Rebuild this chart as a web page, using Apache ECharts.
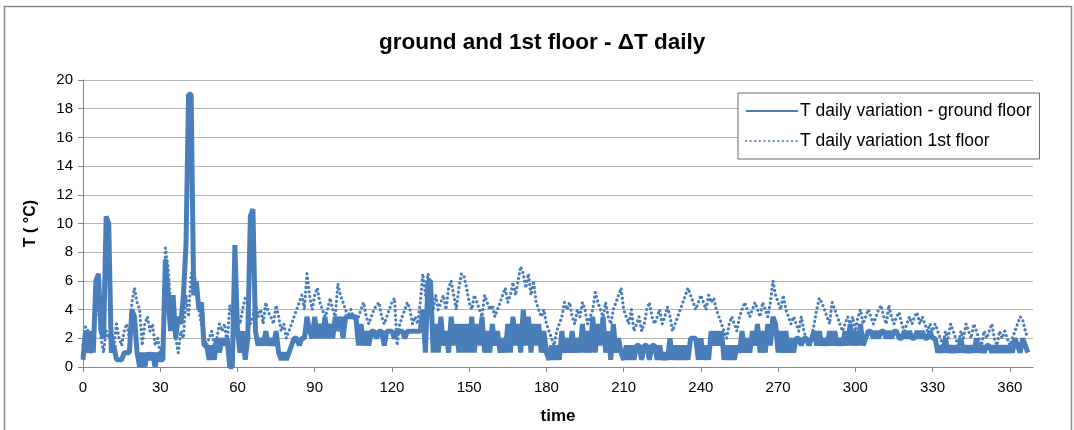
<!DOCTYPE html>
<html>
<head>
<meta charset="utf-8">
<script src="https://cdn.jsdelivr.net/npm/echarts@6/dist/echarts.min.js"></script>
<style>
html,body{margin:0;padding:0;background:#fff;}
#chart{width:1074px;height:430px;}
</style>
</head>
<body>
<div id="chart"></div>
<script>
// Chart text
var titleText = 'ground and 1st floor - \u0394T daily';
var seriesNames = ['T daily variation - ground floor', 'T daily variation 1st floor'];
var xTicks = [0, 30, 60, 90, 120, 150, 180, 210, 240, 270, 300, 330, 360];
var yTicks = [0, 2, 4, 6, 8, 10, 12, 14, 16, 18, 20];

// Day index (time) 0..367
var days = [];
for (var i = 0; i < 368; i++) days.push(i);

// Ground floor daily variation (°C)
var groundFloor = [
0.5,2.5,1.0,2.5,1.0,6.0,6.5,2.5,2.0,10.5,
10.0,1.0,1.5,0.5,0.5,0.5,1.0,1.0,1.0,4.0,
3.5,1.0,0,1.0,0,1.0,0.5,1.0,0,1.0,
0.5,0.5,7.5,5.0,2.5,5.0,2.0,3.5,3.0,5.0,
8.5,19.0,19.0,5.0,6.0,4.0,4.5,1.5,1.5,0.5,
1.5,0.5,2.0,1.0,2.0,1.5,2.0,0,0,8.5,
2.5,1.0,2.5,0.5,2.0,10.5,11.0,2.5,1.5,2.0,
1.5,2.5,1.5,2.0,1.5,2.5,1.0,0.5,1.0,0.5,
1.0,1.5,2.0,2.0,1.5,2.0,2.0,3.5,2.5,2.0,
3.5,2.0,3.0,2.0,3.5,2.0,3.0,2.0,3.5,2.5,
3.5,2.0,3.5,3.5,3.5,3.5,3.5,1.5,3.0,1.5,
2.5,1.5,2.5,2.5,2.0,2.5,2.5,1.5,2.5,2.5,
2.5,2.0,2.5,2.5,2.5,2.0,2.5,2.5,2.5,2.5,
2.5,2.5,4.0,1.0,6.0,6.0,1.0,3.0,1.0,3.5,
1.5,2.5,1.0,3.5,1.5,3.0,1.0,3.0,1.0,3.0,
1.0,3.5,1.0,3.0,1.5,3.5,1.0,2.5,1.0,3.0,
1.5,2.5,1.0,2.0,1.0,3.0,1.0,3.5,1.5,3.0,
1.0,4.0,1.5,3.5,1.0,3.0,1.5,3.0,1.0,2.5,
1.0,0.5,1.5,0.5,1.5,0.5,2.5,1.0,2.0,1.0,
2.5,1.0,2.0,1.0,3.0,1.0,2.5,1.0,3.5,1.0,
3.0,1.5,3.5,1.0,2.5,0.5,3.0,1.0,2.0,1.0,
0.5,1.5,0.5,1.5,0.5,1.5,1.5,0.5,1.5,1.5,
0.5,1.5,1.5,0.5,1.5,0.5,1.0,0.5,2.0,0.5,
1.5,0.5,1.5,0.5,1.5,0.5,2.0,2.0,2.0,0.5,
2.0,0.5,1.5,0.5,2.5,1.5,2.5,1.5,2.5,0.5,
1.5,0.5,1.5,0.5,1.5,1.0,2.5,1.0,2.0,1.0,
2.5,1.5,3.0,1.0,2.5,1.0,3.0,1.5,3.5,3.0,
1.0,2.5,1.0,2.5,1.0,2.0,1.0,2.0,2.0,1.5,
2.0,2.0,1.5,2.0,2.5,1.5,2.5,1.5,2.0,1.5,
2.5,1.5,2.5,1.5,2.0,1.5,2.5,1.5,3.0,1.5,
2.5,1.5,3.0,1.5,2.0,2.5,2.5,2.0,2.5,2.0,
2.5,2.5,2.0,2.5,2.0,2.5,2.5,2.0,2.0,2.5,
2.0,2.5,2.0,2.0,2.5,2.0,2.5,2.0,2.0,2.5,
2.0,2.0,1.0,1.5,1.0,2.0,1.0,1.5,1.0,1.5,
1.0,2.0,1.0,1.5,1.0,1.5,1.0,2.0,1.0,1.5,
1.0,1.5,1.5,1.0,1.5,1.0,1.5,1.0,1.5,1.0,
1.5,1.0,2.0,1.5,1.0,2.0,1.5,1.0
];

// 1st floor daily variation (°C)
var firstFloor = [
1.5,2.8,2.5,1.0,2.0,6.0,4.0,2.0,1.0,2.5,
2.0,2.8,1.5,3.0,2.0,1.5,2.5,3.0,2.0,4.5,
5.5,4.5,4.0,1.5,3.0,3.5,2.5,3.0,1.5,2.0,
1.0,1.5,8.3,7.0,4.5,3.0,2.0,1.0,2.5,2.0,
5.0,3.5,6.5,6.8,5.5,4.0,3.0,2.0,1.5,2.0,
2.5,1.5,2.0,3.0,2.5,3.0,1.5,4.3,3.5,4.0,
3.5,3.0,4.0,4.8,4.5,3.0,3.5,4.5,3.5,4.0,
3.0,4.5,3.8,3.5,3.0,4.3,3.5,2.5,3.0,2.0,
2.5,3.0,3.5,4.0,4.5,5.0,4.0,6.5,5.0,4.0,
5.0,5.5,4.5,4.0,3.5,4.0,4.8,4.0,3.5,5.8,
5.0,4.5,4.0,3.5,4.0,3.5,3.0,3.5,4.0,4.5,
3.5,3.0,3.5,4.0,4.3,4.5,3.5,3.0,3.5,4.0,
4.5,4.8,1.5,3.0,3.5,4.0,4.5,4.0,3.0,3.5,
3.0,4.5,6.5,5.0,6.5,5.5,4.0,5.0,4.0,4.5,
5.0,4.0,5.5,6.0,5.0,4.0,5.5,6.5,6.3,5.5,
4.5,4.0,5.0,4.5,4.0,3.5,5.0,4.5,4.0,4.3,
3.5,4.0,4.5,5.0,5.5,4.5,5.0,5.9,5.0,6.0,
7.0,6.5,5.5,6.5,5.0,6.0,4.5,4.0,3.5,4.0,
3.0,2.5,2.0,1.5,2.5,3.0,3.5,4.5,4.0,4.5,
3.5,3.0,4.0,3.5,4.5,4.0,3.0,3.5,4.0,5.2,
4.5,4.0,3.5,4.5,3.5,3.0,4.0,4.5,5.0,5.5,
4.0,3.5,3.0,4.0,2.5,3.0,3.5,2.5,3.0,4.0,
4.5,3.5,3.0,3.5,4.0,3.0,3.5,4.2,3.5,2.5,
3.0,3.5,4.0,4.5,5.0,5.5,5.0,4.5,4.0,4.5,
5.0,4.5,4.0,5.0,4.5,4.8,4.0,3.5,3.0,2.5,
2.0,3.0,3.5,3.0,2.5,3.5,4.0,4.5,4.0,3.5,
4.0,4.5,4.0,3.5,4.5,4.0,3.5,4.5,6.0,5.0,
4.5,4.0,5.0,4.0,3.5,3.0,3.5,3.0,2.5,3.5,
2.5,2.0,1.5,2.0,3.0,4.0,4.8,4.5,4.0,3.5,
3.0,4.5,4.0,3.5,3.0,2.5,3.0,3.5,3.0,3.5,
2.5,3.5,4.0,3.0,3.5,4.0,3.5,3.0,3.5,4.0,
4.3,3.5,3.0,4.3,3.5,3.0,3.5,3.8,3.0,2.5,
3.0,3.5,3.0,3.5,3.8,3.0,3.5,3.0,2.5,3.0,
2.5,3.0,2.5,2.0,1.5,2.5,2.0,3.0,2.5,2.0,
1.5,2.5,2.0,3.0,2.5,2.0,3.0,2.5,2.0,1.5,
2.5,2.0,2.5,3.0,2.0,1.5,2.5,2.0,2.5,2.0,
1.5,2.0,2.5,3.0,3.5,3.3,2.5,2.0
];

var blue = '#4a7ebb';
var font = '"Liberation Sans", Arial, sans-serif';

function pairs(ys) {
  return days.map(function (d, i) { return [d, ys[i]]; });
}

var chart = echarts.init(document.getElementById('chart'), null, {renderer: 'canvas'});
chart.setOption({
  animation: false,
  backgroundColor: '#fff',
  textStyle: {fontFamily: font},
  title: {
    text: titleText,
    left: 374, top: 26,
    textStyle: {fontSize: 22.5, fontWeight: 'bold', color: '#000', fontFamily: font}
  },
  graphic: [{
    type: 'rect', silent: true, z: -1,
    shape: {x: 4.5, y: 6.5, width: 1067, height: 440},
    style: {fill: 'none', stroke: '#8a8a8a', lineWidth: 1.5}
  }],
  legend: {
    orient: 'vertical',
    left: 738, top: 93,
    itemWidth: 52, itemHeight: 14,
    itemGap: 12,
    padding: [9, 8, 9, 7],
    backgroundColor: '#fff',
    borderColor: '#6b6b6b', borderWidth: 1,
    itemStyle: {opacity: 0},
    textStyle: {fontSize: 17.5, color: '#000', fontFamily: font, padding: [0, 0, 0, -3]},
    data: seriesNames
  },
  grid: {left: 83, right: 41, top: 80, bottom: 63, containLabel: false},
  xAxis: {
    type: 'value', min: 0, max: 369, interval: 30,
    name: 'time', nameLocation: 'middle', nameGap: 41,
    nameTextStyle: {fontSize: 17, fontWeight: 'bold', color: '#000', fontFamily: font},
    axisLine: {show: true, lineStyle: {color: '#868686', width: 1}},
    axisTick: {show: true, length: 5, lineStyle: {color: '#868686'}},
    axisLabel: {fontSize: 15, color: '#000', margin: 13, showMaxLabel: false, fontFamily: font,
      formatter: function (v) { return xTicks.indexOf(v) >= 0 ? String(v) : ''; }},
    splitLine: {show: false}
  },
  yAxis: {
    type: 'value', min: 0, max: 20, interval: 2,
    name: 'T ( \u00B0C)', nameLocation: 'middle', nameGap: 44, nameRotate: 90,
    nameTextStyle: {fontSize: 16, fontWeight: 'bold', color: '#000', fontFamily: font},
    axisLine: {show: true, lineStyle: {color: '#868686', width: 1}},
    axisTick: {show: true, length: 5, lineStyle: {color: '#868686'}},
    axisLabel: {fontSize: 15, color: '#000', margin: 10, fontFamily: font,
      formatter: function (v) { return yTicks.indexOf(v) >= 0 ? String(v) : ''; }},
    splitLine: {show: true, lineStyle: {color: '#b3b3b3', width: 1}}
  },
  series: [
    {
      name: seriesNames[0], type: 'line', data: pairs(groundFloor),
      showSymbol: false, symbol: 'none', z: 3,
      color: blue,
      lineStyle: {color: blue, width: 5, join: 'bevel'}
    },
    {
      name: seriesNames[1], type: 'line', data: pairs(firstFloor),
      showSymbol: false, symbol: 'none', z: 2,
      color: blue,
      lineStyle: {color: blue, width: 3.2, type: [0.1, 4.5], cap: 'round', join: 'round'}
    }
  ]
});
</script>
</body>
</html>
